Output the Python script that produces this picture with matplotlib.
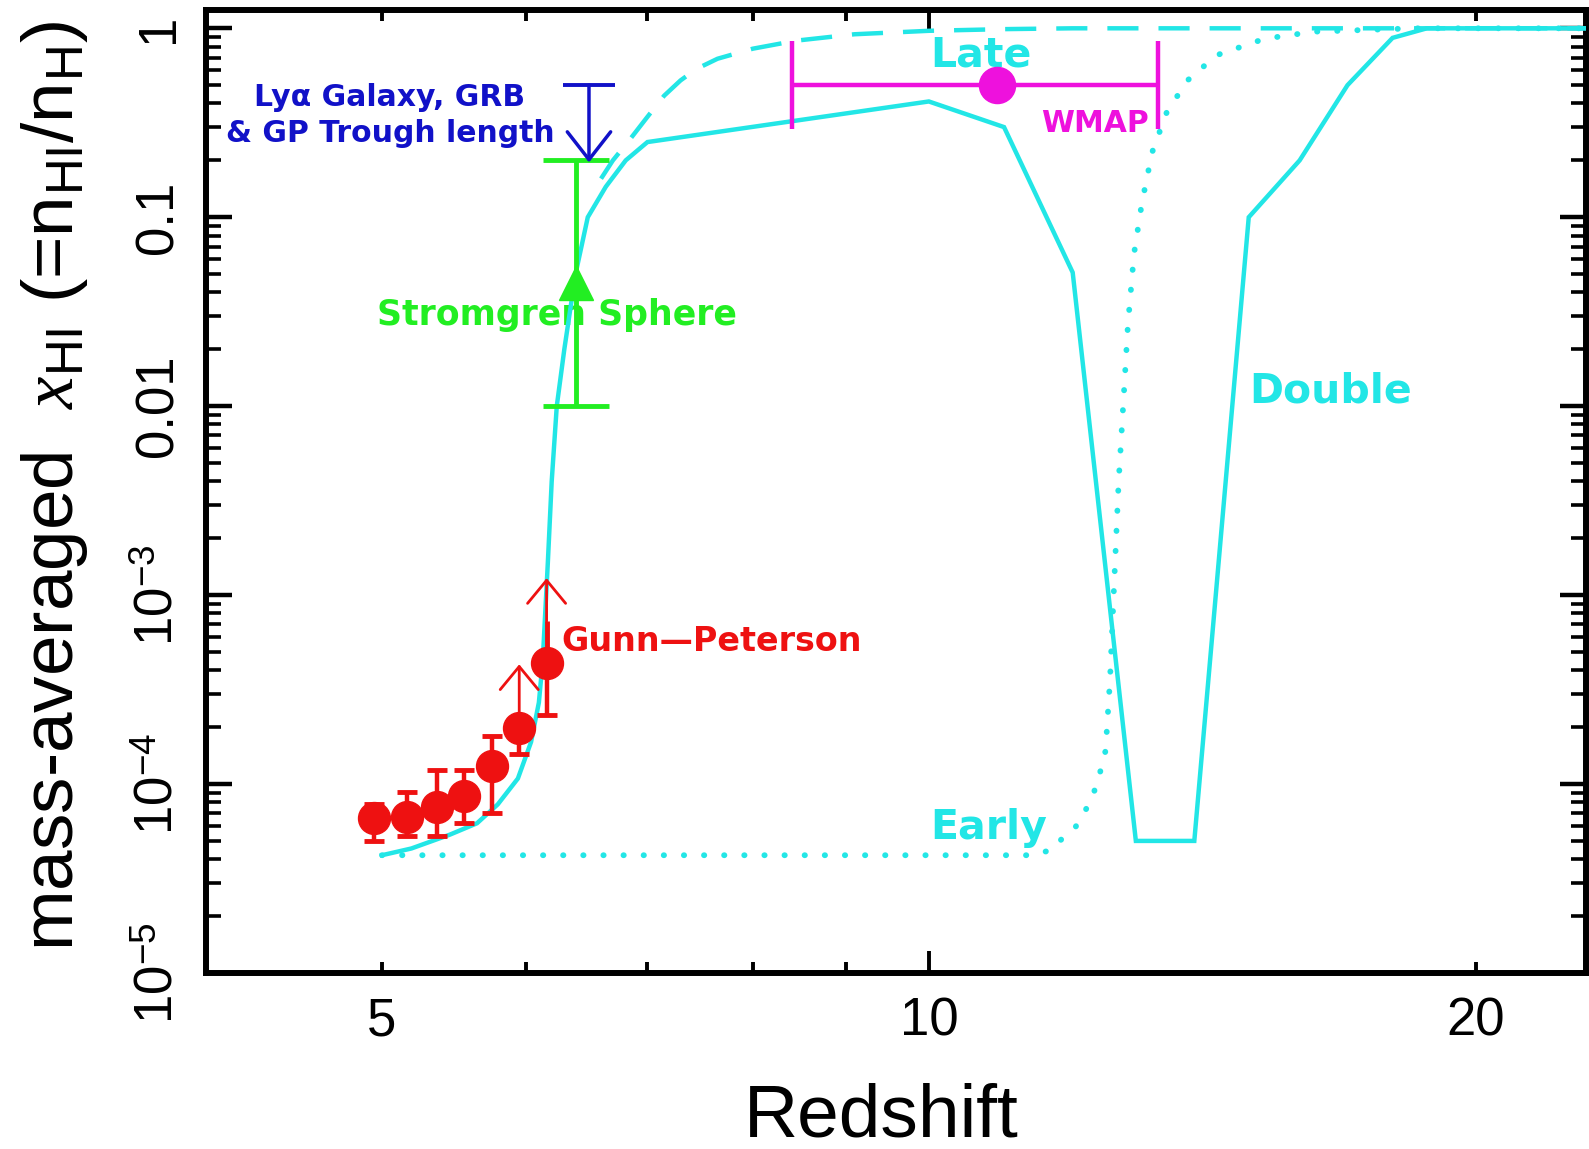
import matplotlib
matplotlib.use('Agg')
import matplotlib.pyplot as plt
from matplotlib.ticker import FixedLocator, FixedFormatter

# ---------------- data ----------------
# "Double" reionization model (solid)
double_z = [5.0, 5.19, 5.45, 5.64, 5.79, 5.94, 6.04, 6.10, 6.13, 6.15, 6.17, 6.20, 6.24,
            6.30, 6.39, 6.49, 6.64, 6.81, 7.0, 10.0, 11.0, 12.0, 13.0, 14.0, 15.0, 16.0,
            17.0, 18.0, 18.8, 23.0]
double_x = [4.2e-5, 4.56e-5, 5.4e-5, 6.2e-5, 7.8e-5, 1.07e-4, 1.67e-4, 2.7e-4, 4.5e-4,
            8.2e-4, 1.5e-3, 4.0e-3, 0.01, 0.02, 0.05, 0.10, 0.145, 0.20, 0.25, 0.41, 0.30,
            0.051, 5.0e-5, 5.0e-5, 0.10, 0.20, 0.50, 0.89, 1.0, 1.0]

# "Late" model (dashed, branches off the common curve)
late_z = [6.6, 6.7, 6.85, 7.0, 7.15, 7.3, 7.45, 7.65, 8.0, 8.45, 9.1, 10.0, 11.0, 12.0, 23.0]
late_x = [0.16, 0.20, 0.26, 0.34, 0.44, 0.53, 0.61, 0.69, 0.78, 0.86, 0.93, 0.97, 0.99,
          1.0, 1.0]

# "Early" model (dotted)
early_z = [5.0, 11.4, 11.7, 11.85, 12.04, 12.2, 12.33, 12.42, 12.51, 12.58, 12.65, 12.72,
           12.8, 12.87, 12.97, 13.1, 13.27, 13.52, 13.88, 14.4, 15.3, 16.3, 18.5, 23.0]
early_x = [4.2e-5, 4.2e-5, 4.5e-5, 5.2e-5, 5.9e-5, 7.3e-5, 9.1e-5, 1.14e-4, 1.5e-4, 3.5e-4,
           1.2e-3, 4.0e-3, 0.011, 0.027, 0.064, 0.119, 0.22, 0.36, 0.53, 0.72, 0.88, 0.96,
           1.0, 1.0]

# Gunn-Peterson measurements
gp_z = [4.95, 5.16, 5.36, 5.55, 5.75, 5.95, 6.16]
gp_x = [6.6e-5, 6.7e-5, 7.6e-5, 8.6e-5, 1.24e-4, 1.97e-4, 4.35e-4]
gp_lo = [5.0e-5, 5.3e-5, 5.3e-5, 6.2e-5, 7.05e-5, 1.45e-4, 2.31e-4]
gp_hi = [7.8e-5, 9.1e-5, 1.18e-4, 1.18e-4, 1.79e-4, 1.97e-4, 7.27e-4]
gp_arrow_z = [5.95, 6.16]
gp_arrow_from = [1.97e-4, 7.27e-4]
gp_arrow_to = [4.3e-4, 1.23e-3]

# Stromgren sphere
strom_z = 6.39
strom_x = 0.045
strom_lo = 0.01
strom_hi = 0.2

# Lya galaxy / GRB / GP trough upper limit
lya_z = 6.5
lya_cap = 0.5
lya_tip = 0.195

# WMAP
wmap_z = 10.9
wmap_zlo = 8.41
wmap_zhi = 13.37
wmap_x = 0.5

xtick_major = [10]
xtick_major_labels = ['10']
xtick_minor = [5, 6, 7, 8, 9, 20]
xtick_minor_labels = ['5', '', '', '', '', '20']
ytick_values = [1e-5, 1e-4, 1e-3, 0.01, 0.1, 1]
ytick_labels = [r'$10^{-5}$', r'$10^{-4}$', r'$10^{-3}$', '0.01', '0.1', '1']
ytick_minor = [m * 10.0 ** e for e in range(-5, 1) for m in range(2, 10)]

# ---------------- style ----------------
plt.rcParams['mathtext.fontset'] = 'custom'
plt.rcParams['mathtext.rm'] = 'Liberation Sans'
plt.rcParams['mathtext.it'] = 'Liberation Serif:italic'
plt.rcParams['mathtext.sf'] = 'Liberation Sans'
plt.rcParams['mathtext.bf'] = 'Liberation Sans:bold'
plt.rcParams['font.family'] = ['Liberation Sans', 'DejaVu Sans']

CYAN = '#22E6E6'
RED = '#EE1111'
GREEN = '#22EE22'
BLUE = '#1111C8'
MAGENTA = '#EE11DD'
ANN = ['DejaVu Sans']

fig = plt.figure(figsize=(15.89, 11.49), dpi=100)
ax = fig.add_axes([0.1296, 0.1532, 0.8685, 0.8381])
ax.set_xscale('log')
ax.set_yscale('log')

# model curves
ax.plot(double_z, double_x, color=CYAN, lw=3.2, solid_joinstyle='miter', zorder=3)
ax.plot(late_z, late_x, color=CYAN, lw=3.2, linestyle=(0, (7.0, 4.5)), zorder=3)
ax.plot(early_z, early_x, color=CYAN, lw=4.2, linestyle=(0, (0.05, 3.4)),
        dash_capstyle='round', zorder=3)

# Gunn-Peterson points
ylo = [v - l for v, l in zip(gp_x, gp_lo)]
yhi = [h - v for v, h in zip(gp_x, gp_hi)]
ax.errorbar(gp_z[:5], gp_x[:5], yerr=[ylo[:5], yhi[:5]], fmt='o', color=RED,
            ms=23, elinewidth=3.2, capsize=7.5, capthick=3.5, zorder=5)
ax.errorbar(gp_z[5:], gp_x[5:], yerr=[ylo[5:], [0, 0]], fmt='o', color=RED,
            ms=23, elinewidth=3.2, capsize=7.5, capthick=3.5, zorder=5)
ax.vlines(gp_z[6], gp_x[6], gp_hi[6], color=RED, lw=3.5, zorder=5)
for z, a0, a1 in zip(gp_arrow_z, gp_arrow_from, gp_arrow_to):
    ax.annotate('', xy=(z, a1), xytext=(z, a0),
                arrowprops=dict(arrowstyle='->,head_length=1.66,head_width=1.37',
                                color=RED, lw=2.0, mutation_scale=10,
                                shrinkA=0, shrinkB=0), zorder=5)

# Stromgren sphere
ax.errorbar([strom_z], [strom_x], yerr=[[strom_x - strom_lo], [strom_hi - strom_x]],
            fmt='^', color=GREEN, ms=24, elinewidth=3.5, capsize=24, capthick=3.5,
            zorder=4)

# Lya upper limit
ax.plot([lya_z], [lya_cap], marker='_', ms=38, mew=2.8, color=BLUE, zorder=6)
ax.annotate('', xy=(lya_z, lya_tip), xytext=(lya_z, lya_cap),
            arrowprops=dict(arrowstyle='->,head_length=2.0,head_width=1.56',
                            color=BLUE, lw=2.5, mutation_scale=10,
                            shrinkA=0, shrinkB=0), zorder=6)

# WMAP
ax.errorbar([wmap_z], [wmap_x], xerr=[[wmap_z - wmap_zlo], [wmap_zhi - wmap_z]],
            fmt='o', color=MAGENTA, ms=26, elinewidth=3.2, capsize=32, capthick=3.2,
            zorder=5)

# annotations
ax.text(10.68, 0.716, 'Late', color=CYAN, fontsize=29.5, fontweight='bold', family=ANN,
        ha='center', va='center', zorder=2)
ax.text(10.79, 5.87e-5, 'Early', color=CYAN, fontsize=29.5, fontweight='bold', family=ANN,
        ha='center', va='center', zorder=2)
ax.text(16.64, 0.012, 'Double', color=CYAN, fontsize=29.5, fontweight='bold', family=ANN,
        ha='center', va='center', zorder=2)
ax.text(12.34, 0.313, 'WMAP', color=MAGENTA, fontsize=21.5, fontweight='bold', family=ANN,
        ha='center', va='center', zorder=2)
ax.text(6.28, 5.66e-4, 'Gunn\u2014Peterson', color=RED, fontsize=24, fontweight='bold',
        family=ANN, ha='left', va='center', zorder=2)
ax.text(6.24, 0.0305, 'Stromgren Sphere', color=GREEN, fontsize=25, fontweight='bold',
        family=ANN, ha='center', va='center', zorder=1)
ax.text(5.05, 0.345, 'Ly\u03b1 Galaxy, GRB\n& GP Trough length', color=BLUE, fontsize=21.5,
        fontweight='bold', family=ANN, ha='center', va='center', multialignment='center',
        linespacing=1.3, zorder=2)

# axes
ax.set_xlim(4, 23)
ax.set_ylim(1e-5, 1.25)
ax.xaxis.set_major_locator(FixedLocator(xtick_major))
ax.xaxis.set_major_formatter(FixedFormatter(xtick_major_labels))
ax.xaxis.set_minor_locator(FixedLocator(xtick_minor))
ax.xaxis.set_minor_formatter(FixedFormatter(xtick_minor_labels))
ax.yaxis.set_major_locator(FixedLocator(ytick_values))
ax.yaxis.set_major_formatter(FixedFormatter(ytick_labels))
ax.yaxis.set_minor_locator(FixedLocator(ytick_minor))
ax.yaxis.set_minor_formatter(FixedFormatter([''] * len(ytick_minor)))

for s in ax.spines.values():
    s.set_linewidth(4.3)

ax.tick_params(axis='x', which='major', direction='in', length=16, width=2.8,
               top=True, bottom=True, labelsize=38, pad=17)
ax.tick_params(axis='x', which='minor', direction='in', length=8, width=2.8,
               top=True, bottom=True, labelsize=38, pad=17)
ax.tick_params(axis='y', which='major', direction='in', length=19, width=3.2,
               left=True, right=True, labelsize=38, pad=16, labelrotation=90)
ax.tick_params(axis='y', which='minor', direction='in', length=10.5, width=2.6,
               left=True, right=True)
for lab in ax.get_yticklabels():
    lab.set_verticalalignment('center')

ax.set_xlabel('Redshift', fontsize=54)
ax.xaxis.set_label_coords(0.489, -0.114)
ax.set_ylabel(r'mass-averaged  $\mathit{x}_{\rm HI}$ (=n$_{\rm HI}$/n$_{\rm H}$)',
              fontsize=52.5)
ax.yaxis.set_label_coords(-0.084, 0.506)

fig.savefig('out.png', dpi=100)
